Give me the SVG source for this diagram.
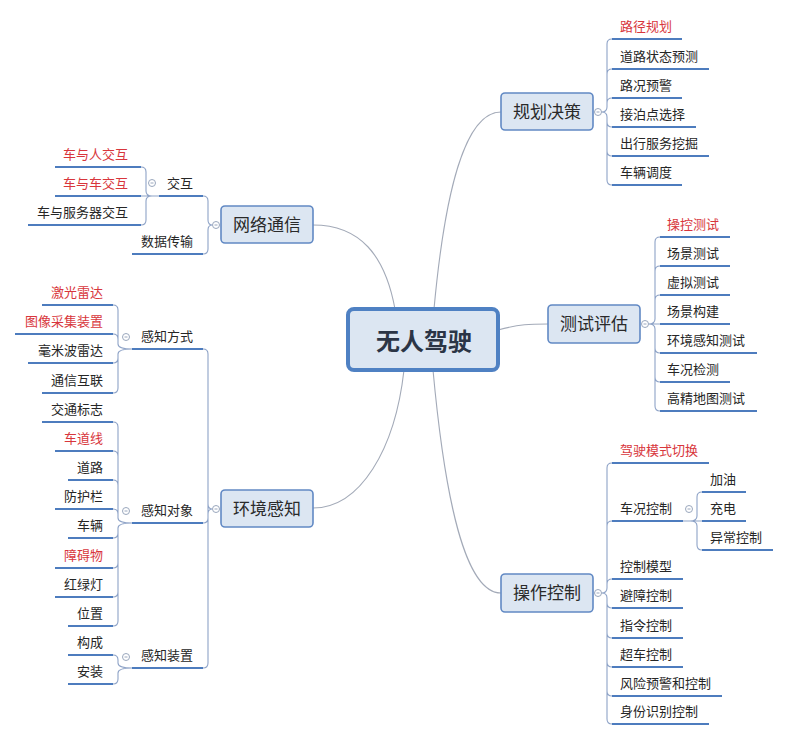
<svg xmlns="http://www.w3.org/2000/svg" width="788" height="739" viewBox="0 0 788 739">
<style>
text{font-family:"Noto Sans CJK SC","Noto Sans",sans-serif;}
.t{font-size:13px;fill:#262626;}
.r{fill:#d8363c;}
.e{text-anchor:end;}
.n{fill:#dce6f2;stroke:#6189c4;stroke-width:1.6;}
.nt{font-size:17px;fill:#2a2a2a;text-anchor:middle;}
.u{stroke:#4d7cbe;stroke-width:2.2;fill:none;}
.b{stroke:#8ea3c7;stroke-width:1.1;fill:none;}
.c{stroke:#a3aab8;stroke-width:1.1;fill:none;}
.k{fill:#fff;stroke:#9aa7bd;stroke-width:1;}
.m{stroke:#9aa7bd;stroke-width:1;}
</style>
<rect width="788" height="739" fill="#fff"/>
<g id="connectors">
<path class="c" d="M395,309 C385,255 360,225 313,225"/>
<path class="c" d="M434,309 C445,190 465,112 501,112"/>
<path class="c" d="M498,330 C520,324 530,324 548,324"/>
<path class="c" d="M404,370 C395,450 360,508 313,508"/>
<path class="c" d="M433,370 C445,500 465,593 501,593"/>
<!-- brackets -->
<path class="b" d="M601.5,112 Q607,112 607,107 V44 Q607,39 612,39 M607,107 V74 Q607,69 612,69 M607,107 V103 Q607,98 612,98 M601.5,112 Q607,112 607,117 V122 Q607,127 612,127 M607,117 V151 Q607,156 612,156 M607,117 V180 Q607,185 612,185"/>
<path class="b" d="M648.5,324 H660 M648.5,324 Q655,324 655,319 V242 Q655,237 660,237 M655,319 V271 Q655,266 660,266 M655,319 V300 Q655,295 660,295 M648.5,324 Q655,324 655,329 V348 Q655,353 660,353 M655,329 V377 Q655,382 660,382 M655,329 V406 Q655,411 660,411"/>
<path class="b" d="M601.5,593 Q607,593 607,588 V468 Q607,463 612,463 M607,588 V526 Q607,521 612,521 M607,588 V584 Q607,579 612,579 M601.5,593 Q607,593 607,598 V603 Q607,608 612,608 M607,598 V633 Q607,638 612,638 M607,598 V662 Q607,667 612,667 M607,598 V691 Q607,696 612,696 M607,598 V719 Q607,724 612,724"/>
<path class="b" d="M683,521 H702 M690,521 Q697,521 697,516 V497 Q697,492 702,492 M690,521 Q697,521 697,526 V545 Q697,550 702,550"/>
<path class="b" d="M212.5,225 Q208,225 208,220 V201 Q208,196 203,196 M212.5,225 Q208,225 208,230 V249 Q208,254 203,254"/>
<path class="b" d="M159,196 H141 M152,196 Q146,196 146,191 V172 Q146,167 141,167 M152,196 Q146,196 146,201 V220 Q146,225 141,225"/>
<path class="b" d="M212.5,509 Q208,509 208,504 V354 Q208,349 203,349 M208,504 V518 Q208,523 203,523 M212.5,509 Q208,509 208,514 V663 Q208,668 203,668"/>
<path class="b" d="M132,349 Q118,349 118,344 V310 Q118,305 113,305 M118,344 V339 Q118,334 113,334 M132,349 Q118,349 118,354 V358 Q118,363 113,363 M118,354 V388 Q118,393 113,393"/>
<path class="b" d="M132,523 Q118,523 118,518 V427 Q118,422 113,422 M118,518 V456 Q118,451 113,451 M118,518 V485 Q118,480 113,480 M118,518 V514 Q118,509 113,509 M132,523 Q118,523 118,528 V533 Q118,538 113,538 M118,528 V563 Q118,568 113,568 M118,528 V592 Q118,597 113,597 M118,528 V621 Q118,626 113,626"/>
<path class="b" d="M132,668 Q118,668 118,663 V660 Q118,655 113,655 M132,668 Q118,668 118,673 V679 Q118,684 113,684"/>
</g>
<g id="root">
<rect x="348" y="309" width="150" height="61" rx="6" fill="#dce6f2" stroke="#4f81c3" stroke-width="4"/>
<text x="424" y="350" font-size="24" font-weight="bold" fill="#2b3546" text-anchor="middle">无人驾驶</text>
</g>
<g id="plan">
<rect class="n" x="501" y="93" width="92" height="37" rx="4"/>
<text class="nt" x="547" y="118">规划决策</text>
<circle class="k" cx="598" cy="112" r="3.5"/><path class="m" d="M596.5,112 H599.5"/>
<path class="u" d="M612,39 H682 M612,69 H709 M612,98 H682 M612,127 H696 M612,156 H709 M612,185 H682"/>
<text class="t r" x="620" y="31">路径规划</text>
<text class="t" x="620" y="61">道路状态预测</text>
<text class="t" x="620" y="90">路况预警</text>
<text class="t" x="620" y="119">接泊点选择</text>
<text class="t" x="620" y="148">出行服务挖掘</text>
<text class="t" x="620" y="177">车辆调度</text>
</g>
<g id="test">
<rect class="n" x="548" y="305" width="92" height="38" rx="4"/>
<text class="nt" x="594" y="330">测试评估</text>
<circle class="k" cx="645" cy="324" r="3.5"/><path class="m" d="M643.5,324 H646.5"/>
<path class="u" d="M660,237 H730 M660,266 H730 M660,295 H730 M660,324 H730 M660,353 H757 M660,382 H730 M660,411 H757"/>
<text class="t r" x="667" y="229">操控测试</text>
<text class="t" x="667" y="258">场景测试</text>
<text class="t" x="667" y="287">虚拟测试</text>
<text class="t" x="667" y="316">场景构建</text>
<text class="t" x="667" y="345">环境感知测试</text>
<text class="t" x="667" y="374">车况检测</text>
<text class="t" x="667" y="403">高精地图测试</text>
</g>
<g id="control">
<rect class="n" x="501" y="574" width="92" height="38" rx="4"/>
<text class="nt" x="547" y="599">操作控制</text>
<circle class="k" cx="598" cy="593" r="3.5"/><path class="m" d="M596.5,593 H599.5"/>
<path class="u" d="M612,463 H709 M612,521 H683 M612,579 H683 M612,608 H683 M612,638 H683 M612,667 H683 M612,696 H722 M612,724 H709"/>
<text class="t r" x="620" y="455">驾驶模式切换</text>
<text class="t" x="620" y="513">车况控制</text>
<text class="t" x="620" y="571">控制模型</text>
<text class="t" x="620" y="600">避障控制</text>
<text class="t" x="620" y="630">指令控制</text>
<text class="t" x="620" y="659">超车控制</text>
<text class="t" x="620" y="688">风险预警和控制</text>
<text class="t" x="620" y="716">身份识别控制</text>
<circle class="k" cx="689" cy="509" r="3.5"/><path class="m" d="M687.5,509 H690.5"/>
<path class="u" d="M702,492 H746 M702,521 H746 M702,550 H773"/>
<text class="t" x="710" y="484">加油</text>
<text class="t" x="710" y="513">充电</text>
<text class="t" x="710" y="542">异常控制</text>
</g>
<g id="network">
<rect class="n" x="221" y="206" width="92" height="37" rx="4"/>
<text class="nt" x="267" y="231">网络通信</text>
<circle class="k" cx="216" cy="225" r="3.5"/><path class="m" d="M214.5,225 H217.5"/>
<path class="u" d="M159,196 H203 M132,254 H203"/>
<text class="t e" x="193" y="188">交互</text>
<text class="t e" x="193" y="246">数据传输</text>
<circle class="k" cx="152" cy="183" r="3.5"/><path class="m" d="M150.5,183 H153.5"/>
<path class="u" d="M55,167 H141 M55,196 H141 M28,225 H141"/>
<text class="t r e" x="128" y="159">车与人交互</text>
<text class="t r e" x="128" y="188">车与车交互</text>
<text class="t e" x="128" y="217">车与服务器交互</text>
</g>
<g id="perception">
<rect class="n" x="221" y="490" width="92" height="37" rx="4"/>
<text class="nt" x="267" y="515">环境感知</text>
<circle class="k" cx="216" cy="509" r="3.5"/><path class="m" d="M214.5,509 H217.5"/>
<path class="u" d="M132,349 H203 M132,523 H203 M132,668 H203"/>
<text class="t e" x="193" y="341">感知方式</text>
<text class="t e" x="193" y="515">感知对象</text>
<text class="t e" x="193" y="660">感知装置</text>
<circle class="k" cx="126" cy="337" r="3.5"/><path class="m" d="M124.5,337 H127.5"/>
<circle class="k" cx="126" cy="511" r="3.5"/><path class="m" d="M124.5,511 H127.5"/>
<circle class="k" cx="126" cy="657" r="3.5"/><path class="m" d="M124.5,657 H127.5"/>
<path class="u" d="M42,305 H113 M15,334 H113 M28,363 H113 M42,393 H113"/>
<text class="t r e" x="103" y="297">激光雷达</text>
<text class="t r e" x="103" y="326">图像采集装置</text>
<text class="t e" x="103" y="355">毫米波雷达</text>
<text class="t e" x="103" y="385">通信互联</text>
<path class="u" d="M42,422 H113 M55,451 H113 M68,480 H113 M55,509 H113 M68,538 H113 M55,568 H113 M55,597 H113 M68,626 H113"/>
<text class="t e" x="103" y="414">交通标志</text>
<text class="t r e" x="103" y="443">车道线</text>
<text class="t e" x="103" y="472">道路</text>
<text class="t e" x="103" y="501">防护栏</text>
<text class="t e" x="103" y="530">车辆</text>
<text class="t r e" x="103" y="560">障碍物</text>
<text class="t e" x="103" y="589">红绿灯</text>
<text class="t e" x="103" y="618">位置</text>
<path class="u" d="M68,655 H113 M68,684 H113"/>
<text class="t e" x="103" y="647">构成</text>
<text class="t e" x="103" y="676">安装</text>
</g>
</svg>
